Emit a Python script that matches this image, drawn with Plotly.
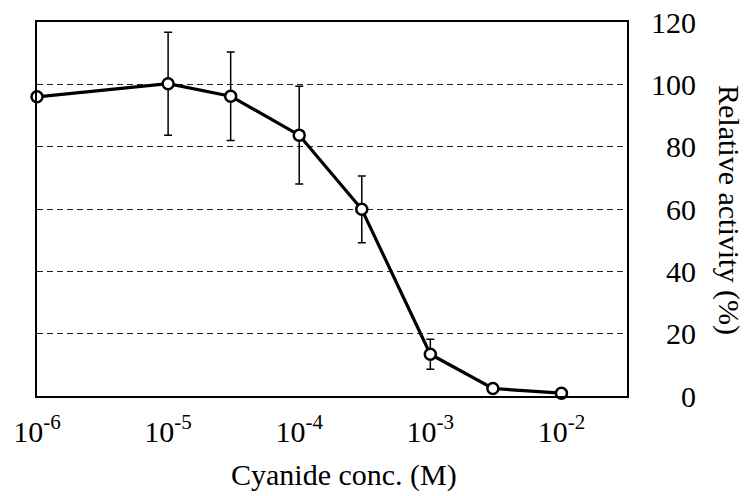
import plotly.graph_objects as go

# Data
concentration = [1e-6, 1e-5, 3e-5, 1e-4, 3e-4, 1e-3, 3e-3, 1e-2]
activity = [96, 100.2, 96.2, 83.7, 59.9, 13.4, 2.4, 0.9]
error = [0, 16.5, 14.2, 15.7, 10.7, 4.8, 0, 0]

x_tickvals = [1e-6, 1e-5, 1e-4, 1e-3, 1e-2]
x_ticktext = ["10<sup>-6</sup>", "10<sup>-5</sup>", "10<sup>-4</sup>",
              "10<sup>-3</sup>", "10<sup>-2</sup>"]
y_tickvals = [0, 20, 40, 60, 80, 100, 120]
y_ticktext = [str(v) for v in y_tickvals]

FONT = "Liberation Serif"
FS = 30

# page body has an 8px default margin; work in figure coordinates
OFF = 8
W, H = 753 - OFF, 496 - OFF
plot_left, plot_top, plot_bottom, plot_right = 37 - OFF, 22 - OFF, 396 - OFF, 627 - OFF
label_right = 696 - OFF
ML, MT, MB, MR = plot_left, plot_top, H - plot_bottom, W - label_right
paper_w = W - ML - MR
paper_h = H - MT - MB
xdom_end = (plot_right - ML) / paper_w

fig = go.Figure()
fig.add_trace(go.Scatter(
    x=concentration, y=activity,
    mode="lines+markers",
    line=dict(color="black", width=3.2),
    marker=dict(symbol="circle", size=11, color="white",
                line=dict(color="black", width=2.5)),
    error_y=dict(type="data", array=error, visible=True,
                 color="black", thickness=1.5, width=4),
    cliponaxis=False,
    showlegend=False,
))
# dummy trace to host the label axis
fig.add_trace(go.Scatter(x=[], y=[], yaxis="y2", showlegend=False))

fig.update_layout(
    width=W, height=H,
    margin=dict(l=ML, r=MR, t=MT, b=MB, autoexpand=False),
    paper_bgcolor="white", plot_bgcolor="white",
    font=dict(family=FONT, size=FS, color="black"),
    xaxis=dict(
        type="log", range=[-6, -1.5], domain=[0, xdom_end],
        tickmode="array", tickvals=x_tickvals, ticktext=x_ticktext,
        ticks="", showgrid=False, zeroline=False, automargin=False,
        showline=True, linecolor="black", linewidth=2, mirror=True,
        tickfont=dict(family=FONT, size=FS, color="black"),
        ticklabelstandoff=8, ticklabeloverflow="allow",
    ),
    yaxis=dict(
        range=[0, 120], tickmode="array", tickvals=y_tickvals,
        showticklabels=False, ticks="", automargin=False,
        showgrid=True, gridcolor="#222222", gridwidth=1, griddash="6px,4px",
        zeroline=False,
        showline=True, linecolor="black", linewidth=2, mirror=True,
    ),
    yaxis2=dict(
        overlaying="y", matches="y", range=[0, 120],
        anchor="free", position=1, side="left", automargin=False,
        tickmode="array", tickvals=y_tickvals, ticktext=y_ticktext,
        ticks="", showgrid=False, zeroline=False, showline=False,
        tickfont=dict(family=FONT, size=FS, color="black"),
        ticklabeloverflow="allow",
    ),
    annotations=[
        dict(text="Cyanide conc. (M)", xref="paper", yref="paper",
             x=(344 - OFF - ML) / paper_w,
             y=(plot_bottom - (475 - OFF)) / paper_h,
             xanchor="center", yanchor="middle", showarrow=False,
             font=dict(family=FONT, size=FS, color="black")),
        dict(text="Relative activity (%)", xref="paper", yref="paper",
             x=(729 - OFF - ML) / paper_w,
             y=(plot_bottom - (210 - OFF)) / paper_h,
             xanchor="center", yanchor="middle", showarrow=False,
             textangle=90,
             font=dict(family=FONT, size=FS, color="black")),
    ],
)

fig.write_html("out.html")
